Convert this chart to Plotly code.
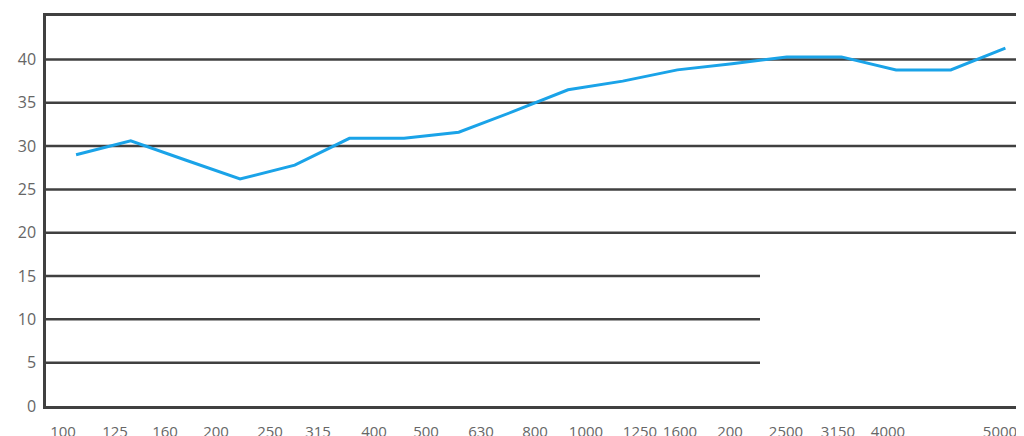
import plotly.graph_objects as go

x_labels = ["100","125","160","200","250","315","400","500","630","800","1000","1250","1600","200","2500","3150","4000","5000"]
values = [29.0,30.6,28.4,26.2,27.8,30.9,30.9,31.6,34.0,36.5,37.5,38.8,39.5,40.3,40.3,38.8,38.8,41.3]
y_ticks = [0,5,10,15,20,25,30,35,40,45]

unit = 984/18
label_px = [55,107,157,208,262,310,366,418,473,527,578,632,672,722,778,830,880,992]
tickpos = [(p-38)/unit for p in label_px]
xs = [i+0.55 for i in range(len(values))]

fig = go.Figure(go.Scatter(x=xs, y=values, mode="lines",
                           line=dict(color="#1aa3e8", width=3)))
grid = dict(type="line", xref="x", yref="y", line=dict(color="#404040", width=2.5), layer="below")
shapes = []
for v in [20,25,30,35,40]:
    shapes.append(dict(grid, x0=0, x1=18, y0=v, y1=v))
for v in [5,10,15]:
    shapes.append(dict(grid, x0=0, x1=(752-38)/unit, y0=v, y1=v))
fig.update_layout(
    width=1024, height=436, margin=dict(l=38, r=2, t=8, b=38, autoexpand=False),
    plot_bgcolor="white", paper_bgcolor="white", showlegend=False,
    font=dict(family="Open Sans", size=16, color="#666666"),
    shapes=shapes,
    xaxis=dict(range=[0,18], tickvals=tickpos, ticktext=x_labels, showgrid=False,
               zeroline=False, showline=True, mirror=True, linecolor="#404040", linewidth=2.5,
               ticks="", tickangle=0, tickfont=dict(size=15), ticklabelstandoff=10,
               automargin=False),
    yaxis=dict(range=[0,45.02], tickvals=y_ticks, showgrid=False, zeroline=False,
               showline=True, mirror=True, linecolor="#404040", linewidth=2.5, ticks="",
               ticklabelstandoff=4, automargin=False),
)
fig.write_html("out.html")
